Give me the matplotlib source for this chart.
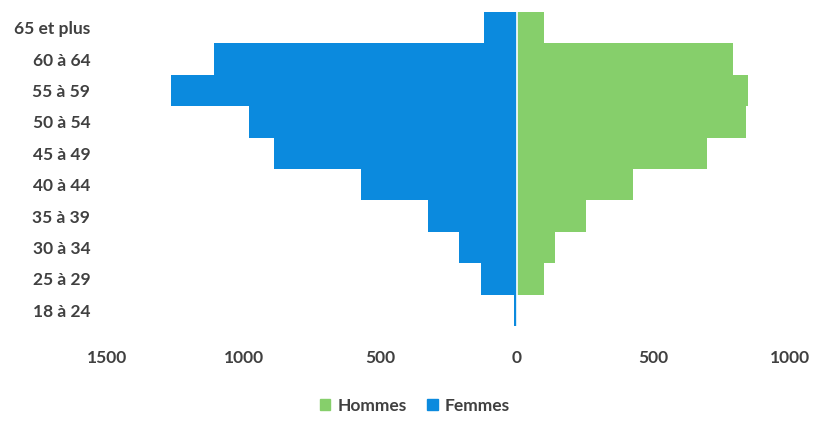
import numpy as np
import matplotlib
matplotlib.use('Agg')
import matplotlib.pyplot as plt
from matplotlib.patches import Patch

# Age groups, bottom to top
categories = ['18 à 24', '25 à 29', '30 à 34', '35 à 39', '40 à 44',
              '45 à 49', '50 à 54', '55 à 59', '60 à 64', '65 et plus']
femmes = [10, 130, 210, 325, 570, 890, 980, 1265, 1110, 120]
hommes = [0, 100, 140, 255, 425, 695, 840, 845, 790, 100]
xticks = [-1500, -1000, -500, 0, 500, 1000]

blue = '#0b8ade'
green = '#86cf6b'
txt = '#404040'

plt.rcParams['font.family'] = ['Lato', 'DejaVu Sans']
plt.rcParams['font.weight'] = 'bold'

fig = plt.figure(figsize=(8.15, 4.21), dpi=100)
ax = fig.add_axes([107 / 815, 1 - 326 / 421, 683 / 815, 314 / 421])

y = np.arange(len(categories))
ax.barh(y, [-v for v in femmes], height=1.0, color=blue, linewidth=0)
ax.barh(y, hommes, height=1.0, color=green, linewidth=0)
ax.axvline(0, color='white', linewidth=1.2)

ax.set_xlim(-1500, 1000)
ax.set_ylim(-0.5, len(categories) - 0.5)
ax.set_yticks(y)
ax.set_yticklabels(categories)
ax.set_xticks(xticks)
ax.set_xticklabels([str(abs(v)) for v in xticks])
ax.tick_params(axis='y', length=0, pad=12, labelsize=12.5, labelcolor=txt)
ax.tick_params(axis='x', length=0, pad=17, labelsize=12.5, labelcolor=txt)
for s in ax.spines.values():
    s.set_visible(False)

handles = [Patch(color=green, label='Hommes'), Patch(color=blue, label='Femmes')]
fig.legend(handles=handles, loc='center', bbox_to_anchor=(415 / 815, 1 - 406 / 421),
           ncol=2, frameon=False, fontsize=12.5, handlelength=0.6, handleheight=0.6,
           handletextpad=0.4, columnspacing=1.2, labelcolor=txt)

fig.savefig('out.png', dpi=100, facecolor='white')
